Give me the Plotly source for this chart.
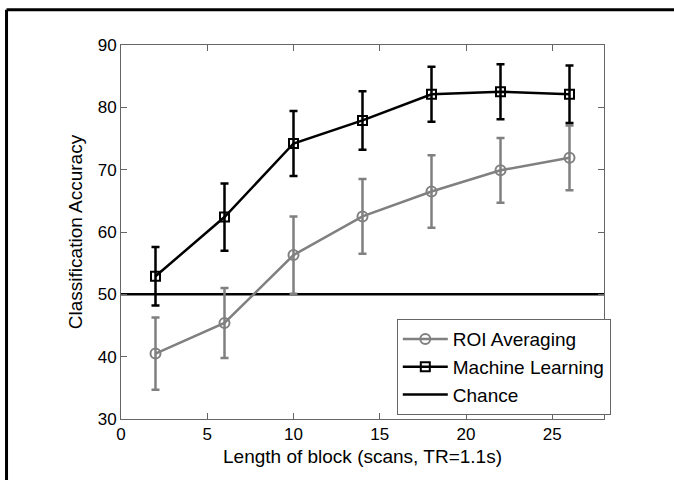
import plotly.graph_objects as go

block_len = [2, 6, 10, 14, 18, 22, 26]
roi_acc = [40.5, 45.4, 56.3, 62.5, 66.5, 69.9, 71.9]
roi_err = [5.8, 5.6, 6.2, 6.0, 5.8, 5.2, 5.2]
ml_acc = [52.9, 62.4, 74.2, 77.9, 82.1, 82.5, 82.1]
ml_err = [4.7, 5.4, 5.2, 4.7, 4.4, 4.4, 4.6]
chance_x = [0, 28]
chance_y = [50, 50]
x_ticks = [0, 5, 10, 15, 20, 25]
y_ticks = [30, 40, 50, 60, 70, 80, 90]

FONT = "Liberation Sans, Arial, Helvetica, sans-serif"
GRAY = "#808080"

fig = go.Figure()
fig.add_trace(go.Scatter(
    x=chance_x, y=chance_y, mode="lines", name="Chance",
    line=dict(color="black", width=2.5), showlegend=False))
fig.add_trace(go.Scatter(
    x=block_len, y=roi_acc, mode="lines+markers", name="ROI Averaging",
    line=dict(color=GRAY, width=2.5),
    marker=dict(symbol="circle-open", size=10, color=GRAY, line=dict(width=2)),
    error_y=dict(type="data", array=roi_err, color=GRAY, thickness=2.5, width=4)))
fig.add_trace(go.Scatter(
    x=block_len, y=ml_acc, mode="lines+markers", name="Machine Learning",
    line=dict(color="black", width=2.5),
    marker=dict(symbol="square-open", size=9, color="black", line=dict(width=2)),
    error_y=dict(type="data", array=ml_err, color="black", thickness=2.5, width=4)))
# legend entry for chance (ordered last)
fig.add_trace(go.Scatter(
    x=[None], y=[None], mode="lines", name="Chance",
    line=dict(color="black", width=2.5)))

axis_common = dict(
    showgrid=False, zeroline=False, showline=True, linecolor="#666",
    linewidth=1, mirror="ticks", ticks="inside", ticklen=6, tickcolor="#666",
    tickfont=dict(family=FONT, size=17, color="black"))

fig.update_layout(
    width=674, height=480,
    margin=dict(l=121, r=70, t=45, b=61),
    paper_bgcolor="white", plot_bgcolor="white",
    font=dict(family=FONT, size=19, color="black"),
    xaxis=dict(range=[0, 28], tickvals=x_ticks,
               title=dict(text="Length of block (scans, TR=1.1s)",
                          font=dict(family=FONT, size=19), standoff=6),
               **axis_common),
    yaxis=dict(range=[30, 90], tickvals=y_ticks,
               title=dict(text="Classification Accuracy",
                          font=dict(family=FONT, size=19), standoff=10),
               **axis_common),
    legend=dict(x=0.571, y=0.267, xanchor="left", yanchor="top",
                bgcolor="white", bordercolor="#666", borderwidth=1,
                itemwidth=45, font=dict(family=FONT, size=19)),
    shapes=[
        dict(type="line", xref="paper", yref="paper",
             x0=-0.237, x1=1.2, y0=1.094, y1=1.094,
             line=dict(color="black", width=3)),
        dict(type="line", xref="paper", yref="paper",
             x0=-0.237, x1=-0.237, y0=1.094, y1=-0.17,
             line=dict(color="black", width=3)),
    ],
)

fig.write_html("out.html", config={"displayModeBar": False},
               post_script="document.body.style.margin='0px';")
